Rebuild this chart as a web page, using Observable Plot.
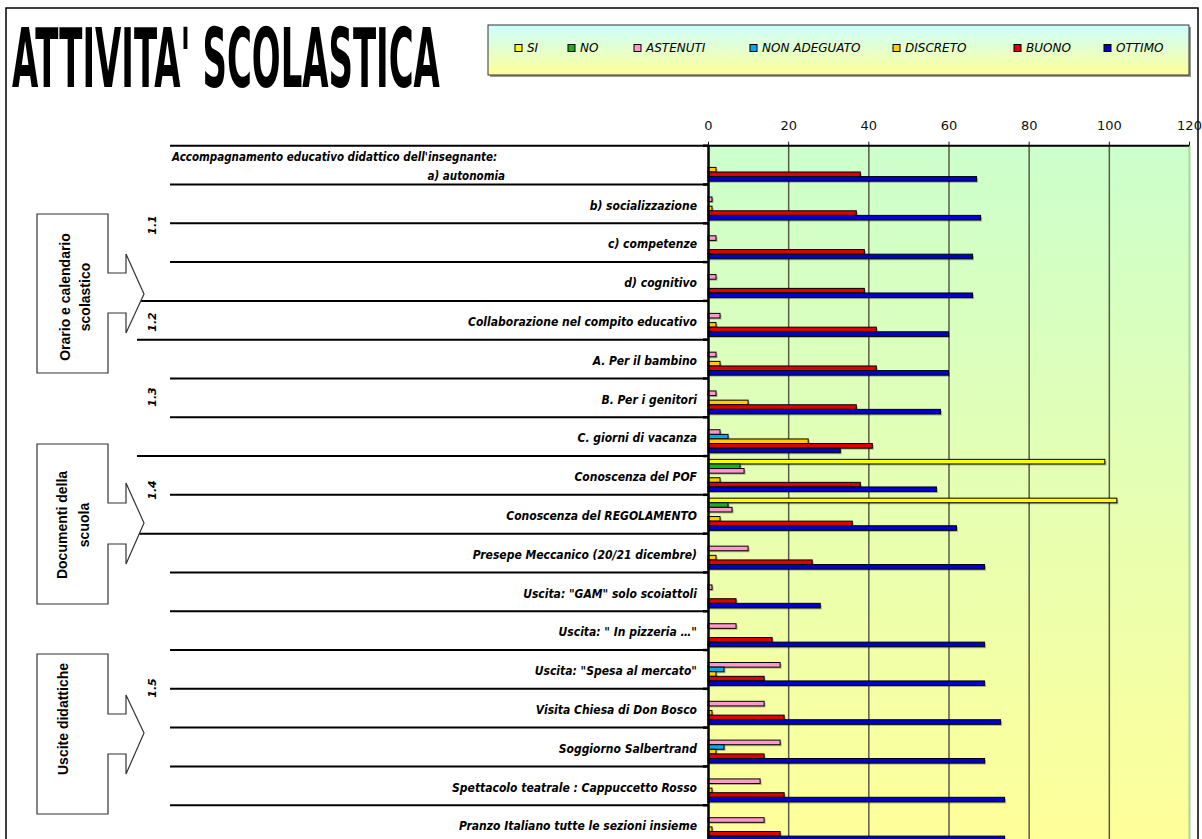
<!DOCTYPE html>
<html>
<head>
<meta charset="utf-8">
<script src="https://cdn.jsdelivr.net/npm/d3@7"></script>
<script src="https://cdn.jsdelivr.net/npm/@observablehq/plot@0.6"></script>
<style>
html, body { margin: 0; padding: 0; background: #fff; }
#wrap { position: relative; width: 1202px; height: 839px; overflow: hidden; background: #fff; }
#wrap svg { position: absolute; left: 0; top: 0; }
</style>
</head>
<body>
<div id="wrap"></div>
<script>
// ---------------- data ----------------
const heading = "Accompagnamento educativo didattico dell'insegnante:";
const categories = [
  "a) autonomia",
  "b) socializzazione",
  "c) competenze",
  "d) cognitivo",
  "Collaborazione nel compito educativo",
  "A. Per il bambino",
  "B. Per i genitori",
  "C. giorni di vacanza",
  "Conoscenza del POF",
  "Conoscenza del REGOLAMENTO",
  "Presepe Meccanico (20/21 dicembre)",
  "Uscita: \"GAM\" solo scoiattoli",
  "Uscita: \" In pizzeria …\"",
  "Uscita: \"Spesa al mercato\"",
  "Visita Chiesa di Don Bosco",
  "Soggiorno Salbertrand",
  "Spettacolo teatrale : Cappuccetto Rosso",
  "Pranzo Italiano tutte le sezioni insieme"
];
const seriesNames = ["SI", "NO", "ASTENUTI", "NON ADEGUATO", "DISCRETO", "BUONO", "OTTIMO"];
const SI           = [0, 0, 0, 0, 0, 0, 0, 0, 99, 102, 0, 0, 0, 0, 0, 0, 0, 0];
const NO           = [0, 0, 0, 0, 0, 0, 0, 0, 8, 5, 0, 0, 0, 0, 0, 0, 0, 0];
const ASTENUTI     = [0, 1, 2, 2, 3, 2, 2, 3, 9, 6, 10, 1, 7, 18, 14, 18, 13, 14];
const NON_ADEGUATO = [0, 0, 0, 0, 0, 0, 0, 5, 0, 0, 0, 0, 0, 4, 0, 4, 0, 0];
const DISCRETO     = [2, 1, 0, 0, 2, 3, 10, 25, 3, 3, 2, 0, 0, 2, 1, 2, 1, 1];
const BUONO        = [38, 37, 39, 39, 42, 42, 37, 41, 38, 36, 26, 7, 16, 14, 19, 14, 19, 18];
const OTTIMO       = [67, 68, 66, 66, 60, 60, 58, 33, 57, 62, 69, 28, 69, 69, 73, 69, 74, 74];
const xTicks = [0, 20, 40, 60, 80, 100, 120];
const gridValues = [20, 40, 60, 80, 100];
const groupLabels = [["Orario e calendario", "scolastico"], ["Documenti della", "scuola"], ["Uscite didattiche"]];
const sectionLabels = ["1.1", "1.2", "1.3", "1.4", "1.5"];
const title = "ATTIVITA' SCOLASTICA";

// ---------------- styles / layout ----------------
const seriesColors = ["#ffff00", "#22aa22", "#ff99cc", "#00aaee", "#ffcc00", "#dd0000", "#0000cc"];
const W = 1202, H = 860, mT = 145.7, mL = 708, mR = 13, mB = 16;
const legendX = [515, 568, 634, 750, 893, 1014, 1104];
const rowLineStart = [170, 170, 170, 170, 137, 137, 170, 170, 137, 170, 137, 170, 170, 170, 170, 170, 170, 170];
const labelFont = '"DejaVu Sans Condensed", "DejaVu Sans", sans-serif';

const seriesValues = [SI, NO, ASTENUTI, NON_ADEGUATO, DISCRETO, BUONO, OTTIMO];
const bw = (H - mT - mB) / categories.length;
const barH = 4.6;
const pad0 = (bw - seriesNames.length * barH) / 2;

const shadowMarks = [], barMarks = [];
seriesNames.forEach((name, i) => {
  const data = categories.map((c, j) => ({cat: c, value: seriesValues[i][j], series: name})).filter(d => d.value > 0);
  const insetTop = pad0 + i * barH;
  const insetBottom = bw - pad0 - (i + 1) * barH;
  shadowMarks.push(Plot.barX(data, {x: "value", y: "cat", insetTop, insetBottom, fill: "#000", fillOpacity: 0.28, dx: 1.5, dy: 1.5}));
  barMarks.push(Plot.barX(data, {x: "value", y: "cat", insetTop, insetBottom, fill: seriesColors[i], stroke: "#000", strokeWidth: 1}));
});

const plot = Plot.plot({
  width: W, height: H,
  marginTop: mT, marginLeft: mL, marginRight: mR, marginBottom: mB,
  style: {fontFamily: '"DejaVu Sans", sans-serif', fontSize: "13px", color: "#111", background: "transparent", overflow: "visible"},
  x: {domain: [0, 120], axis: "top", ticks: xTicks, tickSize: 5, tickPadding: 11, label: null},
  y: {domain: categories, padding: 0, round: false, axis: null},
  marks: [
    Plot.frame({fill: "url(#plotBg)", stroke: "none"}),
    Plot.ruleX([120], {stroke: "#a8d4a0", strokeWidth: 2}),
    Plot.ruleX(gridValues, {stroke: "#5a5a48", strokeWidth: 1.5}),
    ...shadowMarks,
    ...barMarks,
    Plot.ruleX([0], {stroke: "#000", strokeWidth: 2.5})
  ]
});

const wrap = document.getElementById("wrap");
wrap.appendChild(plot);

const svg = d3.select(plot);
const defs = svg.insert("defs", ":first-child");
const g1 = defs.append("linearGradient").attr("id", "plotBg").attr("x1", 0).attr("y1", 0).attr("x2", 0).attr("y2", 1);
g1.append("stop").attr("offset", "0%").attr("stop-color", "#ccffcc");
g1.append("stop").attr("offset", "100%").attr("stop-color", "#ffff99");

// scale positions
let ys = null;
try { ys = plot.scale("y"); } catch (e) { ys = null; }
const bandTop = c => (ys && ys.apply) ? ys.apply(c) : mT + categories.indexOf(c) * bw;
const band = (ys && ys.bandwidth) ? ys.bandwidth : bw;
let xs = null;
try { xs = plot.scale("x"); } catch (e) { xs = null; }
const xPos = v => (xs && xs.apply) ? xs.apply(v) : mL + (v / 120) * (W - mL - mR);

const deco = svg.append("g").attr("text-anchor", "start");
// row separator lines
const boundaries = [bandTop(categories[0])].concat(categories.slice(0, -1).map(c => bandTop(c) + band));
boundaries.forEach((yy, i) => {
  deco.append("line").attr("x1", rowLineStart[i]).attr("x2", i === 0 ? xPos(120) : xPos(0))
    .attr("y1", yy).attr("y2", yy).attr("stroke", "#000").attr("stroke-width", 2);
  deco.append("line").attr("x1", xPos(0) - 5).attr("x2", xPos(0)).attr("y1", yy).attr("y2", yy)
    .attr("stroke", "#000").attr("stroke-width", 2.5);
});
// category labels
const lblAttrs = sel => sel.attr("font-family", labelFont).attr("font-style", "italic").attr("font-weight", "bold")
  .attr("font-size", 12).attr("fill", "#000");
categories.forEach((c, i) => {
  const cy = bandTop(c) + band / 2;
  if (i === 0) {
    lblAttrs(deco.append("text").attr("x", 172).attr("y", bandTop(c) + 11).attr("dy", "0.35em")
      .attr("text-anchor", "start")).attr("font-size", 11.5).text(heading);
    lblAttrs(deco.append("text").attr("x", 505).attr("y", bandTop(c) + 30).attr("dy", "0.35em")
      .attr("text-anchor", "end")).attr("font-size", 11.5).text(c);
  } else {
    lblAttrs(deco.append("text").attr("x", xPos(0) - 11).attr("y", cy + 1.5).attr("dy", "0.35em")
      .attr("text-anchor", "end")).text(c);
  }
});

// group boxes with arrows
const boxes = [
  {top: 214, bottom: 373, n1: 273, n2: 313, h1: 254, h2: 333, tip: 294, tx: [65, 85], ty: 297},
  {top: 444, bottom: 604, n1: 503, n2: 544, h1: 483, h2: 564, tip: 523, tx: [62, 84], ty: 525},
  {top: 654, bottom: 814, n1: 714, n2: 754, h1: 695, h2: 774, tip: 733, tx: [63], ty: 719}
];
boxes.forEach((b, i) => {
  const p = `M37,${b.top} H108 V${b.n1} H126 V${b.h1} L144,${b.tip} L126,${b.h2} V${b.n2} H108 V${b.bottom} H37 Z`;
  deco.append("path").attr("d", p).attr("fill", "#fff").attr("stroke", "#333").attr("stroke-width", 1.2);
  groupLabels[i].forEach((line, k) => {
    deco.append("text").attr("transform", `translate(${b.tx[k]},${b.ty}) rotate(-90)`)
      .attr("text-anchor", "middle").attr("dy", "0.35em")
      .attr("font-family", '"Liberation Sans", Arial, sans-serif').attr("font-weight", "bold").attr("font-size", 14)
      .attr("fill", "#000").text(line);
  });
});
// section labels
const sectionY = [225, 322, 397, 490, 688];
sectionLabels.forEach((s, i) => {
  deco.append("text").attr("transform", `translate(152,${sectionY[i]}) rotate(-90)`)
    .attr("text-anchor", "middle").attr("dy", "0.35em")
    .attr("font-family", '"DejaVu Sans", sans-serif').attr("font-style", "italic").attr("font-weight", "bold").attr("font-size", 11)
    .attr("fill", "#000").text(s);
});

// overlay: title, legend and outer border
const ov = d3.select(wrap).append("svg").attr("width", W).attr("height", 839).style("pointer-events", "none");
const tt = ov.append("text").attr("x", 0).attr("y", 0)
  .attr("font-family", '"DejaVu Sans Condensed", "DejaVu Sans", sans-serif').attr("font-weight", "bold")
  .attr("font-size", 82).attr("fill", "#000").text(title);
const natW = tt.node().getComputedTextLength() || 800;
tt.attr("transform", `translate(12,87) scale(${428 / natW},1)`);

const lgDefs = ov.append("defs");
const g2 = lgDefs.append("linearGradient").attr("id", "legBg").attr("x1", 0).attr("y1", 0).attr("x2", 0).attr("y2", 1);
g2.append("stop").attr("offset", "0%").attr("stop-color", "#ccffff");
g2.append("stop").attr("offset", "100%").attr("stop-color", "#ffff99");
ov.append("rect").attr("x", 490).attr("y", 27).attr("width", 701).attr("height", 50).attr("fill", "#999");
ov.append("rect").attr("x", 488).attr("y", 25).attr("width", 701).attr("height", 50)
  .attr("fill", "url(#legBg)").attr("stroke", "#333").attr("stroke-width", 1);
seriesNames.forEach((name, i) => {
  ov.append("rect").attr("x", legendX[i]).attr("y", 44.5).attr("width", 7).attr("height", 7)
    .attr("fill", seriesColors[i]).attr("stroke", "#000").attr("stroke-width", 1);
  ov.append("text").attr("x", legendX[i] + 12).attr("y", 48).attr("dy", "0.35em")
    .attr("font-family", '"DejaVu Sans", sans-serif').attr("font-style", "italic").attr("font-size", 12)
    .attr("fill", "#000").text(name);
});

ov.append("rect").attr("x", 6).attr("y", 8).attr("width", 1192).attr("height", 900)
  .attr("fill", "none").attr("stroke", "#000").attr("stroke-width", 1.5);
</script>
</body>
</html>
